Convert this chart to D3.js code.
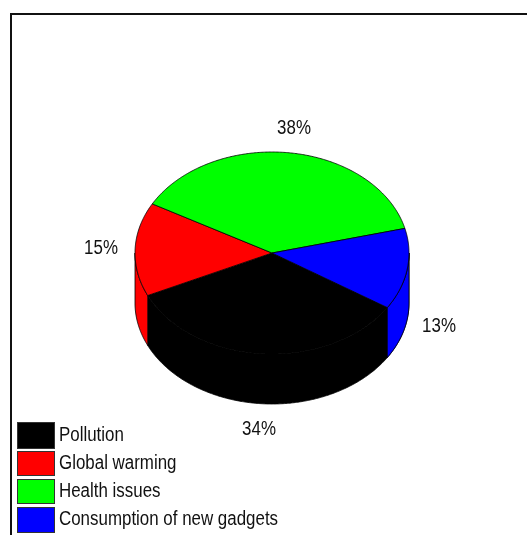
<!DOCTYPE html>
<html><head><meta charset="utf-8">
<script src="https://cdn.jsdelivr.net/npm/d3@7"></script>
<style>
html,body{margin:0;padding:0;background:#fff;overflow:hidden}
svg{filter:blur(0.3px)}
text{font-family:"Liberation Sans",Arial,sans-serif;fill:#111}
</style></head><body><script>
const categories = ["Pollution","Global warming","Health issues","Consumption of new gadgets"];
const values = [34,15,38,13];
const percentLabels = ["34%","15%","38%","13%"];
const colors = ["#000000","#ff0000","#00ff00","#0000ff"];

const W=527,H=535,cx=272,cy=253,rx=137,ry=101,depth=50,squeeze=0.846;
const svg=d3.select("body").append("svg").attr("width",W).attr("height",H).style("display","block");

// frame
svg.append("path").attr("d",`M11,${H}V14H${W}`).attr("fill","none").attr("stroke","#111").attr("stroke-width",2);

const start=122.7*Math.PI/180;
const pie=d3.pie().sort(null).startAngle(start).endAngle(start+2*Math.PI);
const arcs=pie(values);
const px=a=>cx+rx*Math.sin(a), py=a=>cy-ry*Math.cos(a);
const line=d3.line().x(d=>d[0]).y(d=>d[1]);
const samples=(a0,a1)=>{const n=Math.max(2,Math.ceil(Math.abs(a1-a0)/0.01));return d3.range(n+1).map(i=>a0+(a1-a0)*i/n);};

// walls: front half only (angles between PI/2 and 3PI/2)
const wallG=svg.append("g");
function wall(a0,a1,color){
  if(a1<=a0)return;
  const s=samples(a0,a1);
  const pts=s.map(a=>[px(a),py(a)]).concat(s.slice().reverse().map(a=>[px(a),py(a)+depth]));
  wallG.append("path").attr("d",line(pts)+"Z").attr("fill",color).attr("stroke","#000").attr("stroke-width",0.8);
}
arcs.forEach((d,i)=>{
  wall(Math.max(d.startAngle,Math.PI/2),Math.min(d.endAngle,3*Math.PI/2),colors[i]);
  // a slice that wraps past a full turn also has a front portion
  wall(Math.PI/2,Math.min(d.endAngle-2*Math.PI,3*Math.PI/2),colors[i]);
  wall(Math.max(d.startAngle-2*Math.PI,Math.PI/2),Math.min(d.endAngle-2*Math.PI,d.startAngle),colors[i]);
});
// top
svg.append("g").selectAll("path").data(arcs).join("path")
  .attr("d",d=>{const pts=samples(d.startAngle,d.endAngle).map(a=>[px(a),py(a)]);return line([[cx,cy],...pts])+"Z";})
  .attr("fill",(d,i)=>colors[i]).attr("stroke","#000").attr("stroke-width",0.8).attr("stroke-linejoin","round");

// percent labels
const labelPos=[[259,428],[101,247],[294,127],[439,325]];
svg.append("g").selectAll("text").data(percentLabels).join("text")
  .attr("transform",(d,i)=>`translate(${labelPos[i][0]},${labelPos[i][1]}) scale(${squeeze},1)`)
  .attr("text-anchor","middle").attr("dominant-baseline","central")
  .attr("font-size",20).text(d=>d);

// legend
const boxY=[422,451,479,507],boxH=[26,24,24,25],textY=[434,462,490,518];
const leg=svg.append("g");
categories.forEach((c,i)=>{
  leg.append("rect").attr("x",17.5).attr("y",boxY[i]+.5).attr("width",37).attr("height",boxH[i])
    .attr("fill",colors[i]).attr("stroke","#333").attr("stroke-width",1);
  leg.append("text").attr("transform",`translate(59,${textY[i]}) scale(${squeeze},1)`).attr("dominant-baseline","central")
    .attr("font-size",20).text(c);
});
</script></body></html>
